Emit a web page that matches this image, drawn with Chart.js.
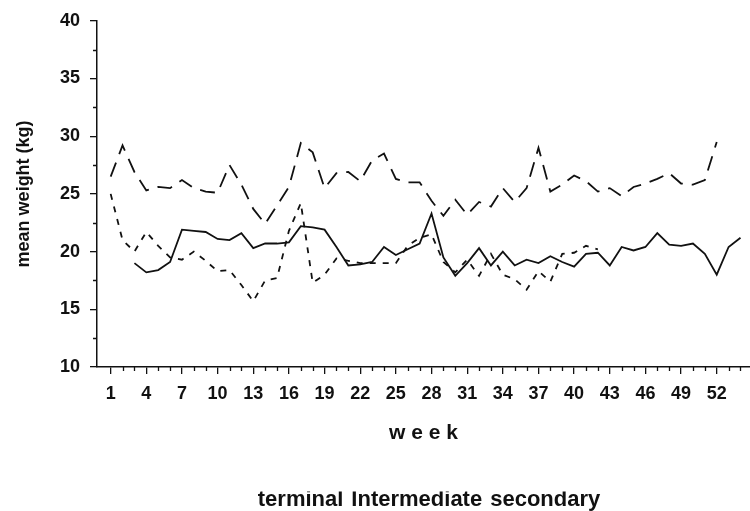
<!DOCTYPE html>
<html>
<head>
<meta charset="utf-8">
<script src="https://cdn.jsdelivr.net/npm/chart.js@4/dist/chart.umd.min.js"></script>
<style>
  html, body { margin: 0; padding: 0; background: #fff; }
  #wrap { width: 750px; height: 511px; }
</style>
</head>
<body>
<div id="wrap"><canvas id="c" width="750" height="511"></canvas></div>
<script>
const weeks = [1,2,3,4,5,6,7,8,9,10,11,12,13,14,15,16,17,18,19,20,21,22,23,24,25,26,27,
  28,29,30,31,32,33,34,35,36,37,38,39,40,41,42,43,44,45,46,47,48,49,50,51,52,53,54];

const weekTicks = [1,4,7,10,13,16,19,22,25,28,31,34,37,40,43,46,49,52];
const weightTicks = [10,15,20,25,30,35,40];
const seriesNames = ['terminal', 'Intermediate', 'secondary'];

// solid line
const terminal = [null,null,19.0,18.2,18.4,19.1,21.9,21.8,21.7,21.1,21.0,21.6,20.3,20.7,
  20.7,20.8,22.2,22.1,21.9,20.4,18.8,18.9,19.1,20.4,19.7,20.2,20.7,23.3,19.5,17.9,
  19.0,20.3,18.8,20.0,18.8,19.3,19.0,19.6,19.1,18.7,19.8,19.9,18.8,20.4,20.1,20.4,
  21.6,20.6,20.5,20.7,19.8,18.0,20.4,21.2];

// short-dash line
const intermediate = [25.0,21.0,20.0,21.7,20.5,19.5,19.3,20.0,19.2,18.3,18.4,17.1,15.7,
  17.5,17.7,21.8,24.2,17.3,18.0,19.4,19.2,19.0,19.0,19.0,19.0,20.5,21.2,21.5,19.1,
  18.2,19.3,17.9,19.8,18.0,17.6,16.7,18.3,17.4,19.8,19.9,20.5,20.2,
  null,null,null,null,null,null,null,null,null,null,null,null];

// long-dash line
const secondary = [26.5,29.2,26.9,25.3,25.6,25.5,26.2,25.5,25.2,25.1,27.5,25.8,23.7,22.4,
  24.0,25.6,29.4,28.6,25.5,26.8,26.9,26.1,27.9,28.5,26.3,26.0,26.0,24.4,23.1,24.5,
  23.2,24.3,23.9,25.5,24.3,25.5,29.0,25.2,25.8,26.6,26.1,25.2,25.5,24.8,25.6,25.9,
  26.3,26.8,25.9,25.8,26.2,29.5,null,null];

const INK = '#111';
const toPts = vals => weeks.map((w, i) => ({ x: w, y: vals[i] }));

const minorTicks = {
  id: 'minorTicks',
  afterDraw(chart) {
    const ctx = chart.ctx;
    const xs = chart.scales.x, ys = chart.scales.y;
    ctx.save();
    ctx.strokeStyle = INK;
    ctx.lineWidth = 1.3;
    ctx.beginPath();
    weeks.forEach(w => {
      if (weekTicks.includes(w)) return;
      const px = Math.round(xs.getPixelForValue(w)) + 0.5;
      ctx.moveTo(px, xs.top);
      ctx.lineTo(px, xs.top + 4);
    });
    for (let i = 0; i < weightTicks.length - 1; i++) {
      const v = (weightTicks[i] + weightTicks[i + 1]) / 2;
      const py = Math.round(ys.getPixelForValue(v)) + 0.5;
      ctx.moveTo(ys.right - 4, py);
      ctx.lineTo(ys.right, py);
    }
    ctx.stroke();
    ctx.restore();
  }
};

const lineBase = {
  borderColor: INK,
  backgroundColor: INK,
  borderWidth: 1.8,
  pointRadius: 0,
  pointHoverRadius: 0,
  tension: 0,
  fill: false,
  spanGaps: false
};

new Chart(document.getElementById('c'), {
  type: 'line',
  data: {
    datasets: [
      Object.assign({}, lineBase, { label: seriesNames[0], data: toPts(terminal) }),
      Object.assign({}, lineBase, { label: seriesNames[1], data: toPts(intermediate), borderDash: [6, 7] }),
      Object.assign({}, lineBase, { label: seriesNames[2], data: toPts(secondary), borderDash: [15, 9] })
    ]
  },
  options: {
    responsive: false,
    animation: false,
    devicePixelRatio: 1,
    layout: { padding: { left: 0, right: 0, top: 20, bottom: -9.5 } },
    plugins: {
      tooltip: { enabled: false },
      legend: {
        position: 'bottom',
        fullSize: false,
        labels: {
          boxWidth: 0,
          padding: -3,
          color: INK,
          font: { family: 'Liberation Sans', weight: 'bold', size: 22 },
          generateLabels: chart => chart.data.datasets.map((d, i) => ({
            text: d.label,
            fillStyle: 'rgba(0,0,0,0)',
            strokeStyle: 'rgba(0,0,0,0)',
            lineWidth: 0,
            hidden: false,
            datasetIndex: i,
            fontColor: INK
          }))
        }
      }
    },
    scales: {
      x: {
        type: 'linear',
        min: -0.15,
        max: 54.8,
        afterBuildTicks: s => { s.ticks = weekTicks.map(v => ({ value: v })); },
        afterFit: s => { s.height = 124.5; },
        border: { color: INK, width: 1.5 },
        grid: { drawOnChartArea: false, drawTicks: true, tickLength: 7, color: INK, lineWidth: 1.3 },
        ticks: {
          padding: 9,
          autoSkip: false,
          maxRotation: 0,
          color: INK,
          font: { family: 'Liberation Sans', weight: 'bold', size: 18 },
          callback: v => String(v)
        },
        title: {
          display: true,
          text: 'w e e k',
          color: INK,
          font: { family: 'Liberation Sans', weight: 'bold', size: 21 },
          padding: { top: 4, bottom: 46 }
        }
      },
      y: {
        min: 10,
        max: 40,
        afterBuildTicks: s => { s.ticks = weightTicks.map(v => ({ value: v })); },
        afterFit: s => { s.width = 97; },
        border: { color: INK, width: 1.5 },
        grid: { drawOnChartArea: false, drawTicks: true, tickLength: 7, color: INK, lineWidth: 1.3 },
        ticks: {
          padding: 10,
          color: INK,
          font: { family: 'Liberation Sans', weight: 'bold', size: 18 },
          callback: v => String(v)
        },
        title: {
          display: true,
          text: 'mean weight (kg)',
          color: INK,
          font: { family: 'Liberation Sans', weight: 'bold', size: 18 },
          padding: { top: 13, bottom: 4 }
        }
      }
    }
  },
  plugins: [minorTicks]
});
</script>
</body>
</html>
